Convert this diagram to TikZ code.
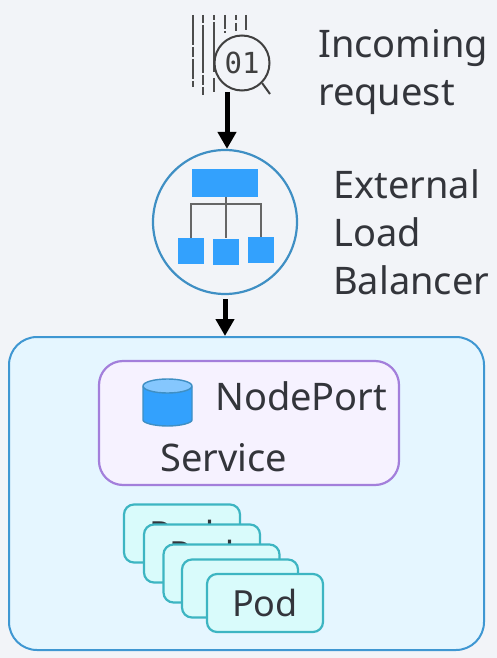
\documentclass[tikz,border=0pt]{standalone}
\usepackage{fontspec}
\setmainfont{Noto Sans}
\newfontfamily\monofont{DejaVu Sans Mono}
\usepackage{tikz}
\usetikzlibrary{arrows.meta}
\definecolor{pagebg}{HTML}{F2F4F8}
\definecolor{clusterbg}{HTML}{E5F6FF}
\definecolor{clusterline}{HTML}{3F97D2}
\definecolor{servicebg}{HTML}{F6F2FF}
\definecolor{serviceline}{HTML}{A37FDB}
\definecolor{podbg}{HTML}{D9FBFB}
\definecolor{podline}{HTML}{3DB5C2}
\definecolor{boxblue}{HTML}{33A1FD}
\definecolor{lbline}{HTML}{3F8FC4}
\definecolor{inktext}{HTML}{33353B}
\tikzstyle{label} = [anchor=base west, inner sep=0pt, text=inktext, font=\fontsize{38}{38}\selectfont]
\tikzstyle{pod} = [draw=podline, fill=podbg, line width=2.2pt, rounded corners=10pt, minimum width=116pt, minimum height=58pt, inner sep=0pt, text=inktext, font=\fontsize{36}{36}\selectfont]
\tikzstyle{kid} = [fill=boxblue, minimum width=26pt, minimum height=26pt, inner sep=0pt]
\tikzstyle{flow} = [line width=5pt, -{Triangle[length=17pt,width=18pt]}]
\tikzstyle{stream} = [line width=2.4pt, draw=black!70]
\begin{document}
\begin{tikzpicture}[x=1pt,y=-1pt]
  \fill[pagebg] (0,0) rectangle (497,658);
  \useasboundingbox (0,0) rectangle (497,658);
  % cluster and service
  \node (cluster) [draw=clusterline, fill=clusterbg, line width=2pt, rounded corners=28pt, minimum width=475pt, minimum height=313pt, inner sep=0pt] at (246.5,493.5) {};
  \node (service) [draw=serviceline, fill=servicebg, line width=2.2pt, rounded corners=24pt, minimum width=300pt, minimum height=124pt, inner sep=0pt] at (249,423) {};
  \node (nodeport) [label] at (215,410) {NodePort};
  \node (servicetext) [label] at (160,471) {Service};
  % cylinder
  \fill[boxblue, draw=lbline, line width=1.4pt, rounded corners=1pt] (143,386) -- (143,419) arc[start angle=180, end angle=360, x radius=24.5pt, y radius=7pt] -- (192,386) -- cycle;
  \fill[boxblue!60!white, draw=lbline, line width=1.4pt] (167.5,386) ellipse[x radius=24.5pt, y radius=7pt];
  % pods
  \node (poda) [pod] at (182,533.5) {Pod};
  \node (podb) [pod] at (202,553.5) {Pod};
  \node (podc) [pod] at (221.5,573.5) {Pod};
  \node (podd) [pod] at (240,588.5) {Pod};
  \node (pode) [pod] at (265,603) {Pod};
  % load balancer
  \node (lb) [circle, draw=lbline, fill=pagebg, line width=2.2pt, minimum size=144pt, inner sep=0pt] at (225,222) {};
  \node (lbtop) [fill=boxblue, minimum width=66pt, minimum height=28pt, inner sep=0pt] at (225,183) {};
  \node (kida) [kid] at (191,251) {};
  \node (kidb) [kid] at (226,251.5) {};
  \node (kidc) [kid] at (261,250) {};
  \coordinate (bus) at (226,204);
  \draw[black!60, line width=1.2pt] (lbtop.south -| kidb) -- (kidb.north);
  \draw[black!60, line width=1.2pt] (kida.north) |- (bus) -| (kidc.north);
  % request icon
  \draw[stream, dash pattern=on 30pt off 2pt on 10pt off 2pt on 20pt off 2pt] (193,15) -- (193,87);
  \draw[stream, dash pattern=on 8pt off 2pt on 48pt off 2pt on 10pt off 2pt on 14pt] (203,15) -- (203,95);
  \draw[stream, dash pattern=on 5pt off 2pt on 50pt off 6pt on 14pt] (214,15) -- (214,92);
  \draw[stream, dash pattern=on 14pt off 2pt on 2pt] (225,15) -- (225,33);
  \draw[stream, dash pattern=on 5pt off 3pt on 8pt] (236,15) -- (236,31);
  \draw[stream] (246,15) -- (246,30);
  \node (lens) [circle, draw=black!75, fill=pagebg, line width=2pt, minimum size=55pt, inner sep=0pt, text=black!75, font=\monofont\fontsize{29}{29}\selectfont] at (242,63) {01};
  \coordinate (handle) at (270,94);
  \draw[black!75, line width=2pt] (lens.-45) -- (handle);
  % arrows
  \coordinate (lensfoot) at (227,92);
  \draw[flow] (lensfoot) -- (lensfoot |- lb.north);
  \draw[flow] (lb.south) ++(0,4) -- (cluster.north -| lb) ;
  % texts
  \node (incoming) [label] at (318,58) {Incoming};
  \node (request) [label] at (318,106) {request};
  \node (external) [label] at (333,198) {External};
  \node (load) [label] at (333,246) {Load};
  \node (balancer) [label] at (333,294) {Balancer};
\end{tikzpicture}
\end{document}
